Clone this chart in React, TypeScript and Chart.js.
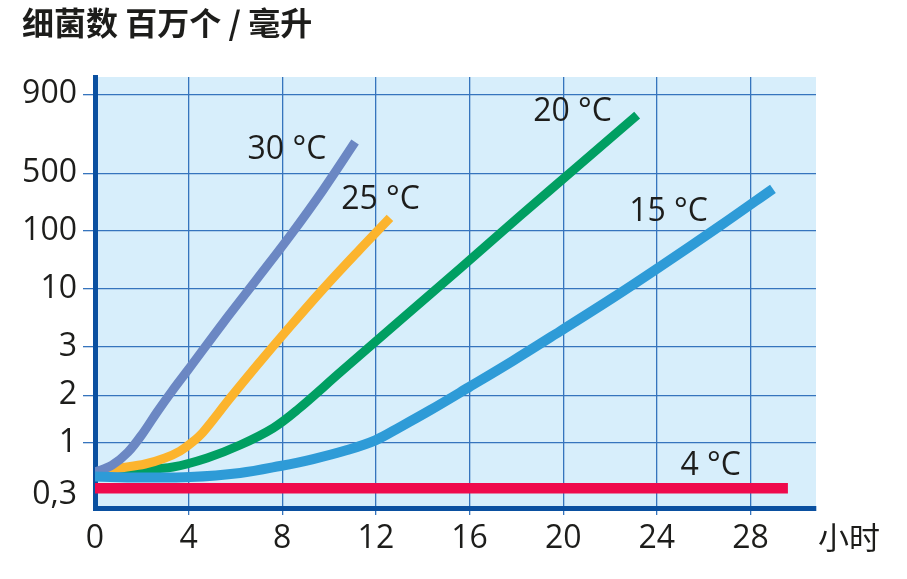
import React, { useEffect, useRef } from "react";
import { Chart, registerables } from "chart.js";

Chart.register(...registerables);

// ---------- data ----------
const hours30 = [0, 0.73, 1.41, 2.05, 2.65, 3.29, 3.97, 5.47, 6.92, 8.33, 9.74, 11.11];
const values30 = [0.51, 0.6, 0.81, 1.155, 1.565, 2.07, 2.47, 4.94, 14.9, 82, 312, 630];

const hours25 = [0, 1.07, 2.14, 2.99, 3.63, 4.15, 4.62, 5.77, 6.92, 8.33, 9.74, 11.2, 12.6];
const values25 = [0.51, 0.56, 0.615, 0.707, 0.83, 1.01, 1.172, 1.915, 2.567, 4.57, 10.0, 42.9, 143.7];

const hours20 = [0, 1.92, 3.33, 4.79, 6.2, 7.61, 8.63, 10.47, 13.03, 15.6, 18.16, 20.73, 23.16];
const values20 = [0.51, 0.54, 0.574, 0.707, 0.955, 1.242, 1.61, 2.42, 5.21, 22.8, 151.7, 535, 770];

const hours15 = [0, 1.92, 4.06, 6.2, 7.91, 9.32, 10.77, 12.0, 13.03, 14.32, 15.98, 17.86, 19.86, 22.14, 24.14, 26.7, 28.96];
const values15 = [0.46, 0.45, 0.455, 0.5, 0.587, 0.69, 0.85, 1.044, 1.26, 1.61, 2.14, 2.67, 4.14, 8.39, 24.4, 115, 323.6];

const hours4 = [0, 29.6];
const values4 = [0.35, 0.35];

const seriesNames = ["4 °C", "15 °C", "30 °C", "25 °C", "20 °C"];

// label anchors (hours, value)
const labelHours = [26.3, 24.5, 8.2, 12.2, 20.4];
const labelValues = [0.59, 169, 593, 236, 787];

const xTicks = [0, 4, 8, 12, 16, 20, 24, 28];
const yTickValues = [0.3, 1, 2, 3, 10, 100, 500, 900];
const yTickLabels = ["0,3", "1", "2", "3", "10", "100", "500", "900"];

const titleText = "细菌数 百万个 / 毫升";
const unitText = "小时";

// ---------- axis layout (uneven y axis: slot of each tick) ----------
const Y_SLOTS = [0, 1, 1.92, 2.85, 3.96, 5.08, 6.19, 7.71];

function toSlot(v: number): number {
  let i = 0;
  while (i < yTickValues.length - 2 && v > yTickValues[i + 1]) i++;
  const v0 = yTickValues[i];
  const v1 = yTickValues[i + 1];
  const f = Math.log(v / v0) / Math.log(v1 / v0);
  return Y_SLOTS[i] + f * (Y_SLOTS[i + 1] - Y_SLOTS[i]);
}

const COLORS = ["#ef0a4c", "#2e9bd7", "#6b87c3", "#fcb42d", "#009f62"];
const WIDTHS = [10.5, 10, 9, 9, 9];
const TEXT = "#1d1d1b";
const GRID = "#3574bd";
const AXIS = "#0a50a0";
const BG = "#d7eefb";
const TRANSPARENT = "rgba(0,0,0,0)";

const allHours = [hours4, hours15, hours30, hours25, hours20];
const allValues = [values4, values15, values30, values25, values20];

const bgPlugin = {
  id: "plotBg",
  beforeDraw(chart: any) {
    const { ctx, chartArea } = chart;
    ctx.save();
    ctx.fillStyle = BG;
    ctx.fillRect(chartArea.left, chartArea.top, chartArea.right - chartArea.left, chartArea.bottom - chartArea.top);
    ctx.restore();
  },
};

const labelPlugin = {
  id: "curveLabels",
  afterDatasetsDraw(chart: any) {
    const { ctx, chartArea } = chart;
    const xs = chart.scales.x;
    const ys = chart.scales.y;
    ctx.save();
    ctx.fillStyle = TEXT;
    ctx.font = "32px 'Open Sans'";
    ctx.textAlign = "center";
    ctx.textBaseline = "middle";
    seriesNames.forEach((t, i) => {
      ctx.fillText(t, xs.getPixelForValue(labelHours[i]), ys.getPixelForValue(toSlot(labelValues[i])));
    });
    ctx.textAlign = "left";
    ctx.font = "31px 'Noto Sans CJK SC'";
    ctx.fillText(unitText, chartArea.right + 2, chartArea.bottom + 29);
    ctx.restore();
  },
};

export default function App() {
  const ref = useRef<HTMLCanvasElement | null>(null);

  useEffect(() => {
    if (!ref.current) return;
    const datasets = allHours.map((hs, k) => ({
      label: seriesNames[k],
      data: hs.map((h, i) => ({ x: h, y: toSlot(allValues[k][i]) })),
      borderColor: COLORS[k],
      backgroundColor: COLORS[k],
      borderWidth: WIDTHS[k],
      pointRadius: 0,
      fill: false,
      tension: 0.35,
      borderCapStyle: "butt" as const,
      borderJoinStyle: "round" as const,
    }));

    const tickFont = { family: "'Open Sans'", size: 32 };

    const chart = new Chart(ref.current, {
      type: "line",
      data: { datasets },
      plugins: [bgPlugin, labelPlugin],
      options: {
        animation: false,
        responsive: false,
        events: [],
        layout: { padding: { left: 22, right: 91, top: 0, bottom: 0 } },
        plugins: {
          legend: { display: false },
          tooltip: { enabled: false },
          title: {
            display: true,
            text: titleText,
            align: "start",
            color: TEXT,
            font: { family: "'Noto Sans CJK SC'", size: 32, weight: "bold", lineHeight: 1.2 },
            padding: { top: 4, bottom: 34.6 },
          },
        },
        scales: {
          x: {
            type: "linear",
            min: 0,
            max: 30.8,
            afterBuildTicks: (s: any) => {
              s.ticks = xTicks.map((v) => ({ value: v }));
            },
            afterFit: (s: any) => {
              s.height = 71;
            },
            ticks: {
              autoSkip: false,
              maxRotation: 0,
              color: TEXT,
              font: tickFont,
              padding: 5,
            },
            grid: {
              color: (c: any) => (c.tick && c.tick.value === 0 ? TRANSPARENT : GRID),
              tickColor: (c: any) => (c.tick && c.tick.value === 0 ? TRANSPARENT : GRID),
              lineWidth: 1.3,
              tickLength: 7,
            },
            border: { color: AXIS, width: 5 },
          },
          y: {
            type: "linear",
            min: -0.25,
            max: 8.04,
            afterBuildTicks: (s: any) => {
              s.ticks = Y_SLOTS.map((v) => ({ value: v }));
            },
            afterFit: (s: any) => {
              s.width = 73;
            },
            ticks: {
              autoSkip: false,
              color: TEXT,
              font: tickFont,
              padding: 6,
              callback: (_v: any, i: number) => yTickLabels[i],
            },
            grid: {
              color: (c: any) => (c.tick && c.tick.value === 0 ? TRANSPARENT : GRID),
              tickColor: (c: any) => (c.tick && c.tick.value === 0 ? TRANSPARENT : GRID),
              lineWidth: 1.3,
              tickLength: 12,
            },
            border: { color: AXIS, width: 5 },
          },
        },
      },
    });
    return () => chart.destroy();
  }, []);

  return (
    <div style={{ position: "absolute", left: 0, top: 0, width: 907, height: 579, background: "#ffffff" }}>
      <canvas ref={ref} width={907} height={579} style={{ display: "block", width: 907, height: 579 }} />
    </div>
  );
}
